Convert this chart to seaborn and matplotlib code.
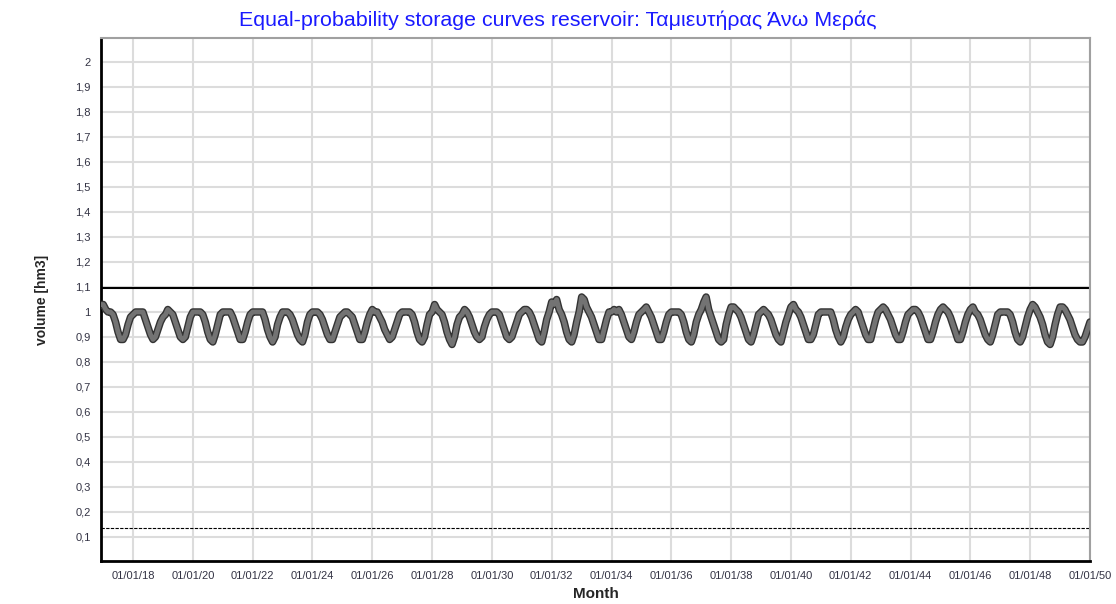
import pandas as pd
import numpy as np
import matplotlib
matplotlib.use('Agg')
import matplotlib.pyplot as plt
import matplotlib.dates as mdates
import seaborn as sns

# Monthly storage (hm3), first point Dec 2016, last point Jan 2050
first_value = 1.03
volume_by_year = [
    [1.03, 1.01, 1.00, 1.00, 0.99, 0.96, 0.92, 0.89, 0.89, 0.91, 0.95, 0.98],  # 2017
    [0.99, 1.00, 1.00, 1.00, 1.00, 0.97, 0.94, 0.91, 0.89, 0.90, 0.93, 0.96],  # 2018
    [0.98, 0.99, 1.01, 1.00, 0.99, 0.96, 0.93, 0.90, 0.89, 0.90, 0.94, 0.98],  # 2019
    [1.00, 1.00, 1.00, 1.00, 0.99, 0.96, 0.92, 0.89, 0.88, 0.91, 0.95, 0.99],  # 2020
    [1.00, 1.00, 1.00, 1.00, 0.98, 0.95, 0.92, 0.89, 0.89, 0.92, 0.96, 0.99],  # 2021
    [1.00, 1.00, 1.00, 1.00, 1.00, 0.97, 0.93, 0.90, 0.88, 0.90, 0.95, 0.98],  # 2022
    [1.00, 1.00, 1.00, 0.99, 0.97, 0.94, 0.91, 0.89, 0.88, 0.91, 0.96, 0.99],  # 2023
    [1.00, 1.00, 1.00, 0.99, 0.97, 0.94, 0.91, 0.89, 0.89, 0.92, 0.95, 0.98],  # 2024
    [0.99, 1.00, 1.00, 0.99, 0.98, 0.95, 0.92, 0.89, 0.89, 0.92, 0.96, 0.99],  # 2025
    [1.01, 1.00, 1.00, 0.98, 0.96, 0.93, 0.91, 0.89, 0.90, 0.93, 0.96, 0.99],  # 2026
    [1.00, 1.00, 1.00, 1.00, 0.99, 0.96, 0.92, 0.89, 0.88, 0.90, 0.95, 0.99],  # 2027
    [1.00, 1.03, 1.01, 1.00, 0.99, 0.96, 0.92, 0.89, 0.87, 0.90, 0.95, 0.98],  # 2028
    [0.99, 1.01, 1.00, 0.98, 0.95, 0.92, 0.90, 0.89, 0.90, 0.94, 0.97, 0.99],  # 2029
    [1.00, 1.00, 1.00, 0.99, 0.96, 0.93, 0.90, 0.89, 0.90, 0.93, 0.96, 0.99],  # 2030
    [1.00, 1.01, 1.01, 1.00, 0.98, 0.95, 0.92, 0.89, 0.88, 0.92, 0.97, 1.00],  # 2031
    [1.04, 1.03, 1.05, 1.01, 0.99, 0.96, 0.92, 0.89, 0.88, 0.91, 0.96, 1.00],  # 2032
    [1.06, 1.05, 1.02, 1.00, 0.98, 0.95, 0.92, 0.89, 0.89, 0.93, 0.97, 1.00],  # 2033
    [1.00, 1.01, 1.00, 1.01, 0.99, 0.96, 0.93, 0.90, 0.89, 0.92, 0.96, 0.99],  # 2034
    [1.00, 1.01, 1.02, 1.00, 0.98, 0.95, 0.92, 0.89, 0.89, 0.92, 0.96, 0.99],  # 2035
    [1.00, 1.00, 1.00, 1.00, 0.99, 0.96, 0.92, 0.89, 0.88, 0.91, 0.96, 0.99],  # 2036
    [1.01, 1.04, 1.06, 1.01, 0.98, 0.95, 0.92, 0.89, 0.88, 0.89, 0.95, 0.99],  # 2037
    [1.02, 1.02, 1.01, 1.00, 0.98, 0.95, 0.92, 0.89, 0.88, 0.91, 0.95, 0.99],  # 2038
    [1.00, 1.01, 1.00, 0.99, 0.97, 0.94, 0.91, 0.89, 0.88, 0.92, 0.96, 0.99],  # 2039
    [1.02, 1.03, 1.01, 1.00, 0.98, 0.95, 0.92, 0.89, 0.89, 0.91, 0.95, 0.99],  # 2040
    [1.00, 1.00, 1.00, 1.00, 1.00, 0.97, 0.93, 0.90, 0.88, 0.90, 0.94, 0.97],  # 2041
    [0.99, 1.00, 1.01, 1.00, 0.97, 0.94, 0.91, 0.89, 0.89, 0.93, 0.97, 1.00],  # 2042
    [1.01, 1.02, 1.01, 0.99, 0.97, 0.94, 0.91, 0.89, 0.89, 0.92, 0.96, 0.99],  # 2043
    [1.00, 1.01, 1.01, 1.00, 0.98, 0.95, 0.92, 0.89, 0.89, 0.92, 0.96, 0.99],  # 2044
    [1.01, 1.02, 1.01, 1.00, 0.98, 0.95, 0.92, 0.89, 0.89, 0.92, 0.96, 0.99],  # 2045
    [1.01, 1.02, 1.00, 0.99, 0.97, 0.94, 0.91, 0.89, 0.88, 0.91, 0.95, 0.99],  # 2046
    [1.00, 1.00, 1.00, 1.00, 0.99, 0.96, 0.92, 0.89, 0.88, 0.90, 0.94, 0.98],  # 2047
    [1.01, 1.03, 1.02, 1.00, 0.98, 0.95, 0.91, 0.88, 0.87, 0.90, 0.95, 0.99],  # 2048
    [1.02, 1.02, 1.01, 0.99, 0.97, 0.94, 0.91, 0.89, 0.88, 0.88, 0.90, 0.93],  # 2049
]
last_value = 0.96

max_storage = 1.095
min_storage = 0.137

ytick_values = [0.1, 0.2, 0.3, 0.4, 0.5, 0.6, 0.7, 0.8, 0.9, 1.0,
                1.1, 1.2, 1.3, 1.4, 1.5, 1.6, 1.7, 1.8, 1.9, 2.0]
ytick_labels = ['0,1', '0,2', '0,3', '0,4', '0,5', '0,6', '0,7', '0,8', '0,9', '1',
                '1,1', '1,2', '1,3', '1,4', '1,5', '1,6', '1,7', '1,8', '1,9', '2']

values = [first_value] + [v for row in volume_by_year for v in row] + [last_value]
months = pd.date_range('2016-12-01', periods=len(values), freq='MS')
df = pd.DataFrame({'month': months, 'volume': values})

sns.set_style('white')
plt.rcParams['font.family'] = ['Liberation Sans', 'DejaVu Sans']

fig = plt.figure(figsize=(11.16, 6.04), dpi=100)
ax = fig.add_axes([0.0905, 0.0712, 0.8862, 0.8659])

# thick grey curve with a dark outline
sns.lineplot(data=df, x='month', y='volume', ax=ax, color='#333333',
             linewidth=5.4, solid_joinstyle='round', zorder=3)
sns.lineplot(data=df, x='month', y='volume', ax=ax, color='#737373',
             linewidth=3.4, solid_joinstyle='round', zorder=4)

ax.axhline(max_storage, color='black', linewidth=1.5, zorder=2)
ax.axhline(min_storage, color='black', linewidth=0.8,
           linestyle=(0, (3, 1.2)), zorder=2)

ax.set_xlim(pd.Timestamp('2016-12-05'), pd.Timestamp('2050-01-01'))
ax.set_ylim(0.004, 2.096)

ax.xaxis.set_major_locator(mdates.YearLocator(2))
ax.xaxis.set_minor_locator(mdates.MonthLocator(bymonth=[1, 7]))
ax.xaxis.set_major_formatter(mdates.DateFormatter('%d/%m/%y'))
ax.set_yticks(ytick_values)
ax.set_yticklabels(ytick_labels)
ax.set_yticks(np.arange(0.02, 2.09, 0.02), minor=True)

ax.grid(True, which='major', color='#dcdcdc', linewidth=1.5, zorder=0)
ax.set_axisbelow(True)

ax.tick_params(axis='both', which='major', direction='out', length=4,
               width=1, color='#222222', labelsize=8, labelcolor='#333344')
ax.tick_params(axis='both', which='minor', direction='out', length=3,
               width=1, color='#555555')
ax.tick_params(axis='x', which='major', pad=3)

for side in ['left', 'bottom']:
    ax.spines[side].set_color('black')
    ax.spines[side].set_linewidth(2)
for side in ['top', 'right']:
    ax.spines[side].set_color('#a0a0a0')
    ax.spines[side].set_linewidth(1.5)

fig.suptitle('Equal-probability storage curves reservoir: Ταμιευτήρας Άνω Μεράς',
             color='#1a1aff', fontsize=15.4, x=0.5, y=0.966, va='center')
ax.set_xlabel('Month', fontsize=11, fontweight='bold')
ax.set_ylabel('volume [hm3]', fontsize=10, fontweight='bold')
ax.xaxis.set_label_coords(0.5, -0.05)
ax.yaxis.set_label_coords(-0.053, 0.5)

fig.savefig('out.png', dpi=100)
